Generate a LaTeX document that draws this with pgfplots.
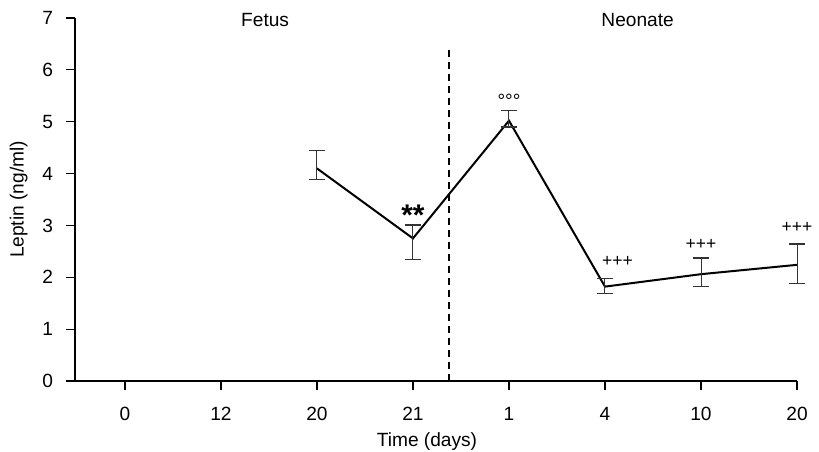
\documentclass[border=0pt]{standalone}
\usepackage{pgfplots}
\pgfplotsset{compat=1.18}
\usepackage{fontspec}
\setmainfont{Liberation Sans}
\begin{document}
\begin{tikzpicture}
\useasboundingbox (-37.5bp,-35.5bp) rectangle (372bp,190.5bp);
\begin{axis}[
  at={(0,0)}, anchor=south west,
  scale only axis=true,
  width=361bp, height=181.5bp,
  xmin=-0.52, xmax=7, ymin=0, ymax=7,
  axis x line*=bottom, axis y line*=left,
  axis line style={line width=0.6bp},
  tick style={line width=0.6bp, black},
  tick align=outside,
  major tick length=4.5bp,
  xtick={0,1,2,3,4,5,6,7},
  xticklabels={0,12,20,21,1,4,10,20},
  ytick={0,1,2,3,4,5,6,7},
  /pgf/number format/assume math mode=true,
  ticklabel style={font=\fontsize{9.6}{11}\selectfont},
  label style={font=\fontsize{9.6}{11}\selectfont},
  xticklabel style={yshift=-5bp},
  yticklabel style={xshift=-3bp},
  xlabel={Time (days)},
  ylabel={Leptin (ng/ml)},
  xlabel style={yshift=1bp, xshift=-4.5bp},
  ylabel style={yshift=0.5bp},
  clip=false,
]
\addplot[line width=1bp, black, mark=none,
  error bars/.cd, y dir=both, y explicit,
  error bar style={line width=0.5bp, black!80},
  error mark options={rotate=90, mark size=4bp, line width=0.6bp, black!80}]
  table[x=x, y=y, y error plus=ep, y error minus=em] {
x y ep em
2 4.10 0.35 0.21
3 2.75 0.26 0.40
4 5.02 0.19 0.12
5 1.82 0.15 0.14
6 2.06 0.31 0.24
7 2.24 0.40 0.36
};
\addplot[black, line width=0.6bp, dash pattern=on 3.5bp off 2.5bp] coordinates {(3.375,0) (3.375,6.38)};
\node[font=\fontsize{9.6}{11}\selectfont] at (axis cs:1.46,6.96) {Fetus};
\node[font=\fontsize{9.6}{11}\selectfont] at (axis cs:5.34,6.96) {Neonate};
\node[font=\fontsize{15}{17}\selectfont\bfseries] at (axis cs:3,3.2) {**};
\node[font=\fontsize{9.6}{11}\selectfont, anchor=south, inner sep=0pt] at (axis cs:4,5.26) {°°°};
\node[font=\fontsize{8.8}{10}\selectfont] at (axis cs:5.13,2.30) {+++};
\node[font=\fontsize{8.8}{10}\selectfont] at (axis cs:6.0,2.64) {+++};
\node[font=\fontsize{8.8}{10}\selectfont] at (axis cs:7.0,2.96) {+++};
\end{axis}
\end{tikzpicture}
\end{document}
